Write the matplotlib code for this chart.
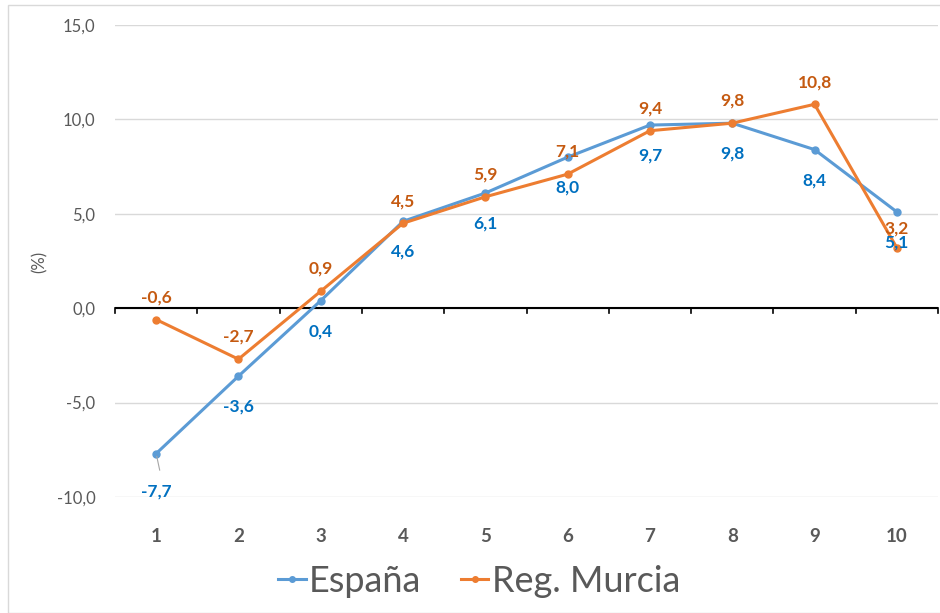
import matplotlib
matplotlib.use("Agg")
import matplotlib.pyplot as plt
from matplotlib.patches import Rectangle

# series
categorias = [1, 2, 3, 4, 5, 6, 7, 8, 9, 10]
espana = [-7.7, -3.6, 0.4, 4.6, 6.1, 8.0, 9.7, 9.8, 8.4, 5.1]
murcia = [-0.6, -2.7, 0.9, 4.5, 5.9, 7.1, 9.4, 9.8, 10.8, 3.2]
yticks = [-10, -5, 0, 5, 10, 15]

plt.rcParams["font.family"] = ["Lato", "DejaVu Sans"]

fig = plt.figure(figsize=(9.4, 6.13), dpi=100)
ax = fig.add_axes([115 / 940, 1 - 497 / 613, 823 / 940, 472 / 613])

c_esp, c_mur = "#5B9BD5", "#ED7D31"
t_esp, t_mur = "#0070C0", "#C55A11"

ax.plot(categorias, espana, color=c_esp, lw=2.2, marker="o", ms=5, label="España", zorder=3)
ax.plot(categorias, murcia, color=c_mur, lw=2.2, marker="o", ms=5, label="Reg. Murcia", zorder=4)

def fmt(v):
    return f"{v:.1f}".replace(".", ",")

for x, v in zip(categorias, espana):
    dy = -27 if x == 1 else -22
    ax.annotate(fmt(v), (x, v), xytext=(0, dy), textcoords="offset points",
                ha="center", va="center", color=t_esp, fontsize=12.5, fontweight="bold", zorder=5)
# leader line for the first point
ax.annotate("", (1, espana[0]), xytext=(3, -14), textcoords="offset points",
            arrowprops=dict(arrowstyle="-", color="#A6A6A6", lw=0.8))

for x, v in zip(categorias, murcia):
    dy = 16 if x != 10 else 14
    ax.annotate(fmt(v), (x, v), xytext=(0, dy), textcoords="offset points",
                ha="center", va="center", color=t_mur, fontsize=12.5, fontweight="bold", zorder=6)

ax.set_xlim(0.5, 10.5)
ax.set_ylim(-10, 15)
ax.set_yticks(yticks)
ax.set_yticklabels([fmt(v) for v in yticks], color="#595959", fontsize=12)
ax.yaxis.grid(True, color="#D9D9D9", lw=1)
ax.set_axisbelow(True)
ax.tick_params(axis="y", length=0, pad=14)

# x axis drawn along y = 0 with boundary ticks
ax.axhline(0, color="black", lw=1.5, zorder=2)
for b in range(0, 11):
    ax.plot([b + 0.5, b + 0.5], [0, -0.28], color="black", lw=1.2, zorder=2, clip_on=False)
ax.set_xticks(categorias)
ax.set_xticklabels([str(c) for c in categorias], fontsize=13.5, fontweight="bold", color="#595959")
ax.tick_params(axis="x", length=0, pad=22)

for s in ax.spines.values():
    s.set_visible(False)

fig.text(40 / 940, 1 - 262 / 613, "(%)", rotation=90, ha="center", va="center",
         color="#595959", fontsize=12)

leg = fig.legend(loc="center", bbox_to_anchor=(0.51, 1 - 581 / 613), ncol=2, frameon=False,
                 fontsize=26, handlelength=0.75, handletextpad=0.1, columnspacing=1.1,
                 labelcolor="#595959", markerscale=0.8)

# outer chart border
fig.patches.append(Rectangle((8 / 940, 0), 1, 1 - 5 / 613, transform=fig.transFigure,
                             fill=False, edgecolor="#D9D9D9", lw=1))

fig.savefig("out.png", dpi=100)
